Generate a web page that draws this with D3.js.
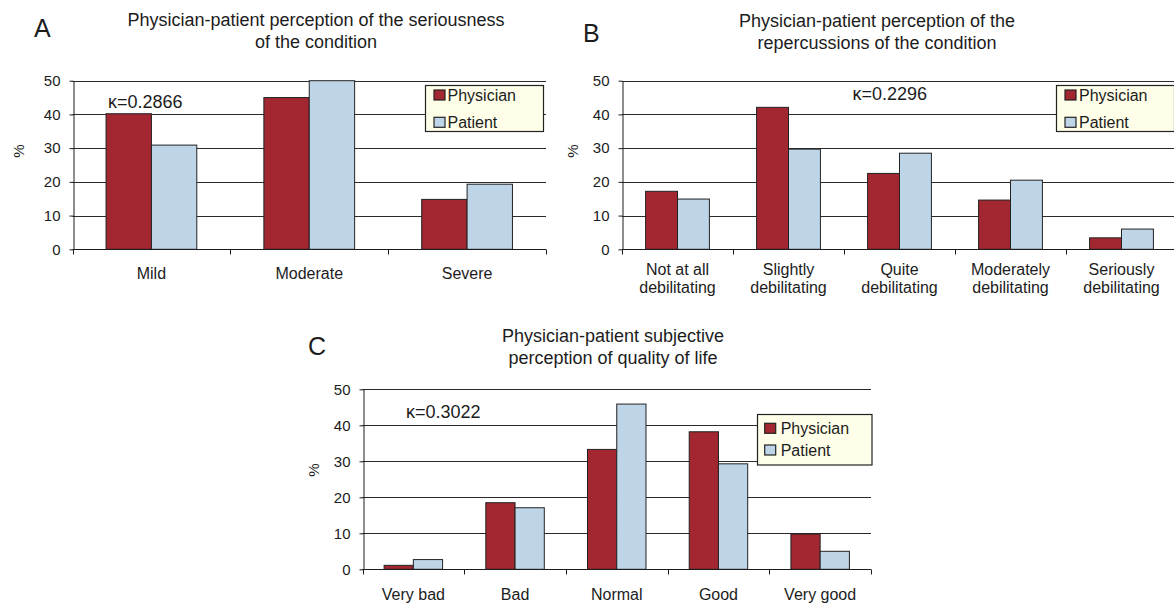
<!DOCTYPE html>
<html>
<head>
<meta charset="utf-8">
<script src="https://cdn.jsdelivr.net/npm/d3@7"></script>
<style>
  body { margin: 0; background: #fff; }
  svg { display: block; font-family: "Liberation Sans", Arial, sans-serif; }
</style>
</head>
<body>
<div id="chart-area"></div>
<script>
// DATA
const series = ['Physician', 'Patient']
const yTicks = [0, 10, 20, 30, 40, 50]

const catsA = [['Mild'], ['Moderate'], ['Severe']]
const physicianA = [40.2, 45.0, 14.8]
const patientA = [30.9, 50.0, 19.3]
const kappaA = 'κ=0.2866'

const catsB = [['Not at all', 'debilitating'], ['Slightly', 'debilitating'], ['Quite', 'debilitating'],
               ['Moderately', 'debilitating'], ['Seriously', 'debilitating']]
const physicianB = [17.2, 42.1, 22.5, 14.6, 3.4]
const patientB = [14.9, 29.7, 28.5, 20.5, 6.0]
const kappaB = 'κ=0.2296'

const catsC = [['Very bad'], ['Bad'], ['Normal'], ['Good'], ['Very good']]
const physicianC = [1.1, 18.5, 33.3, 38.2, 9.8]
const patientC = [2.7, 17.1, 45.9, 29.3, 5.0]
const kappaC = 'κ=0.3022'

// COLORS
const color = d3.scaleOrdinal().domain(series).range(['#a22731', '#bed5e8'])
const ink = '#1c1c1c'

// SET HTML TARGET
const svg = d3.select('#chart-area')
              .append('svg')
              .attr('width', 1174)
              .attr('height', 604)

// DRAW ONE PANEL
const drawPanel = p => {
    const g = svg.append('g').attr('class', 'panel')

    const labels = p.cats.map(c => c.join(' '))
    const rows = labels.map((c, i) => ({ cat: c, Physician: p.physician[i], Patient: p.patient[i] }))

    // SCALES
    const x = d3.scaleBand()
                .domain(labels)
                .range([p.left, p.right])
                .padding(0)
    const step = x.step()
    const gw = step * 0.575
    const xs = d3.scaleBand()
                 .domain(series)
                 .range([(step - gw) / 2, (step + gw) / 2])
    const y = d3.scaleLinear()
                .domain([0, 50])
                .range([p.bottom, p.top])

    // GRIDLINES
    g.selectAll('.grid')
     .data(yTicks.slice(1))
     .enter()
     .append('line')
     .attr('x1', p.left)
     .attr('x2', p.right)
     .attr('y1', d => Math.round(y(d)) + 0.5)
     .attr('y2', d => Math.round(y(d)) + 0.5)
     .attr('stroke', '#2a2a2a')
     .attr('stroke-width', 1)

    // BARS
    rows.forEach(r => {
        g.selectAll(null)
         .data(series)
         .enter()
         .append('rect')
         .attr('x', s => x(r.cat) + xs(s))
         .attr('y', s => y(r[s]))
         .attr('width', xs.bandwidth())
         .attr('height', s => y(0) - y(r[s]))
         .attr('fill', s => color(s))
         .attr('stroke', '#222')
         .attr('stroke-width', 1)
    })

    // Y AXIS
    const yAxisCall = d3.axisLeft(y)
                        .tickValues(yTicks)
                        .tickSize(4)
                        .tickSizeOuter(0)
                        .tickPadding(9)
    const yAxisGroup = g.append('g')
                        .attr('class', 'y-axis')
                        .attr('transform', 'translate(' + Math.round(p.left) + '.5, 0)')
                        .call(yAxisCall)
    yAxisGroup.select('.domain').attr('stroke', ink)
    yAxisGroup.selectAll('line').attr('stroke', ink)
    yAxisGroup.selectAll('text')
              .attr('font-size', '15px')
              .attr('fill', ink)

    // X AXIS
    const y0 = Math.round(y(0)) + 0.5
    const bounds = labels.map(c => x(c)).concat([p.right])
    g.append('line')
     .attr('x1', p.left)
     .attr('x2', p.right)
     .attr('y1', y0)
     .attr('y2', y0)
     .attr('stroke', ink)
    g.selectAll('.x-tick')
     .data(bounds)
     .enter()
     .append('line')
     .attr('x1', d => Math.round(d) + 0.5)
     .attr('x2', d => Math.round(d) + 0.5)
     .attr('y1', y0)
     .attr('y2', y0 + 5)
     .attr('stroke', ink)

    // CATEGORY LABELS
    p.cats.forEach((c, i) => {
        const t = g.append('text')
                   .attr('text-anchor', 'middle')
                   .attr('font-size', '16px')
                   .attr('fill', ink)
        c.forEach((line, j) => {
            t.append('tspan')
             .attr('x', x(labels[i]) + step / 2)
             .attr('y', y(0) + p.catDy + j * 18)
             .text(line)
        })
    })

    // Y-AXIS LABEL
    g.append('text')
     .attr('transform', 'translate(' + p.pctX + ',' + p.pctY + ') rotate(-90)')
     .attr('text-anchor', 'middle')
     .attr('font-size', '15px')
     .attr('fill', ink)
     .text('%')

    // TITLE
    g.append('text')
     .attr('text-anchor', 'middle')
     .attr('font-size', '18px')
     .attr('fill', ink)
     .selectAll('tspan')
     .data(p.title)
     .enter()
     .append('tspan')
     .attr('x', p.titleX)
     .attr('y', (d, i) => p.titleY + i * 22)
     .text(d => d)

    // PANEL LETTER
    g.append('text')
     .attr('x', p.letterX)
     .attr('y', p.letterY)
     .attr('font-size', '25px')
     .attr('fill', ink)
     .text(p.letter)

    // KAPPA
    g.append('text')
     .attr('x', p.kx)
     .attr('y', p.ky)
     .attr('font-size', '18px')
     .attr('fill', ink)
     .text(p.kappa)

    // LEGEND
    const lg = g.append('g')
                .attr('transform', 'translate(' + p.legX + ',' + p.legY + ')')
    lg.append('rect')
      .attr('x', 0.5)
      .attr('y', 0.5)
      .attr('width', p.legW)
      .attr('height', p.legH)
      .attr('fill', '#fefee9')
      .attr('stroke', '#222')
      .attr('stroke-width', 1.2)
    series.forEach((s, i) => {
        lg.append('rect')
          .attr('x', p.swX)
          .attr('y', p.swY + i * p.legGap)
          .attr('width', 11)
          .attr('height', 10)
          .attr('fill', color(s))
          .attr('stroke', '#222')
          .attr('stroke-width', 1.2)
        lg.append('text')
          .attr('x', p.txX)
          .attr('y', p.swY + 10.5 + i * p.legGap)
          .attr('font-size', '16px')
          .attr('fill', ink)
          .text(s)
    })
}

// CREATE CHART
drawPanel({
    cats: catsA, physician: physicianA, patient: patientA, kappa: kappaA,
    left: 72.5, right: 546, top: 80.7, bottom: 249.3, catDy: 30,
    pctX: 24, pctY: 151,
    title: ['Physician-patient perception of the seriousness', 'of the condition'],
    titleX: 316, titleY: 25.5, letter: 'A', letterX: 34, letterY: 37,
    kx: 108, ky: 107.5,
    legX: 425, legY: 85, legW: 118, legH: 46, swX: 9, swY: 5, legGap: 27.3, txX: 22.5
})

drawPanel({
    cats: catsB, physician: physicianB, patient: patientB, kappa: kappaB,
    left: 622, right: 1177, top: 80.7, bottom: 249.3, catDy: 25.7,
    pctX: 578, pctY: 151,
    title: ['Physician-patient perception of the', 'repercussions of the condition'],
    titleX: 877, titleY: 26.5, letter: 'B', letterX: 583, letterY: 41.5,
    kx: 852.5, ky: 100,
    legX: 1056, legY: 85, legW: 118, legH: 46, swX: 9, swY: 5, legGap: 27.3, txX: 23
})

drawPanel({
    cats: catsC, physician: physicianC, patient: patientC, kappa: kappaC,
    left: 362.5, right: 871, top: 389.3, bottom: 569.3, catDy: 30.5,
    pctX: 319, pctY: 470,
    title: ['Physician-patient subjective', 'perception of quality of life'],
    titleX: 613, titleY: 341.5, letter: 'C', letterX: 308, letterY: 355,
    kx: 406, ky: 418.3,
    legX: 757, legY: 414, legW: 114.5, legH: 50.5, swX: 7.7, swY: 9.3, legGap: 21.7, txX: 23.7
})
</script>
</body>
</html>
